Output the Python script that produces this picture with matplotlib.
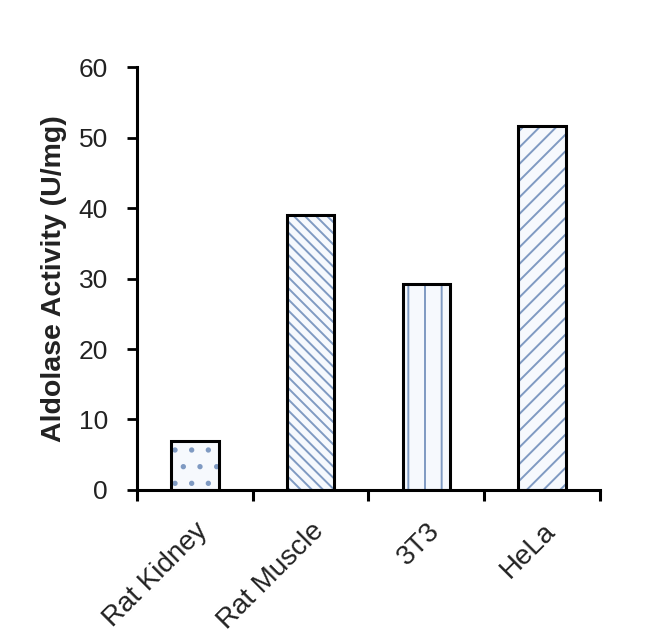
import numpy as np
import matplotlib
matplotlib.use('Agg')
import matplotlib.pyplot as plt

plt.rcParams['font.family'] = ['Liberation Sans', 'DejaVu Sans']
plt.rcParams['hatch.linewidth'] = 1.4

# data
samples = ['Rat Kidney', 'Rat Muscle', '3T3', 'HeLa']
activity = [7.0, 39.0, 29.2, 51.6]
hatches = ['.', '\\\\\\', '|', '//']
y_ticks = [0, 10, 20, 30, 40, 50, 60]

hatch_col = '#7f9ac2'
fill_col = '#f6f9fd'

fig = plt.figure(figsize=(6.5, 6.39), dpi=100)
ax = fig.add_axes([0.2108, 0.2332, 0.7122, 0.6619])

x = np.arange(len(samples))
# hatched fill first (edgecolor drives hatch colour), then black outline on top
for xi, val, h in zip(x, activity, hatches):
    ax.bar(xi, val, width=0.41, color=fill_col, edgecolor=hatch_col, linewidth=0, hatch=h, zorder=2)
ax.bar(x, activity, width=0.41, fill=False, edgecolor='black', linewidth=2.2, zorder=3)

ax.set_xlim(-0.5, len(samples) - 0.5)
ax.set_ylim(0, 60)
ax.set_yticks(y_ticks)
ax.tick_params(axis='y', direction='out', length=7, width=2, labelsize=19, pad=14, colors='black',
               labelcolor='#222222')

# category labels at bar centres, tick marks between categories
ax.set_xticks(x)
ax.set_xticklabels(samples, rotation=45, ha='right', va='top', rotation_mode='anchor', fontsize=20,
                   color='#222222')
ax.tick_params(axis='x', which='major', length=0, pad=20)
ax.set_xticks(np.arange(-0.5, len(samples), 1.0), minor=True)
ax.tick_params(axis='x', which='minor', direction='out', length=8, width=2.2)

for side in ['top', 'right']:
    ax.spines[side].set_visible(False)
for side in ['left', 'bottom']:
    ax.spines[side].set_linewidth(2.2)

ax.set_ylabel('Aldolase Activity (U/mg)', fontsize=20.5, fontweight='bold', labelpad=8,
              color='#222222')

fig.savefig('out.png', dpi=100)
